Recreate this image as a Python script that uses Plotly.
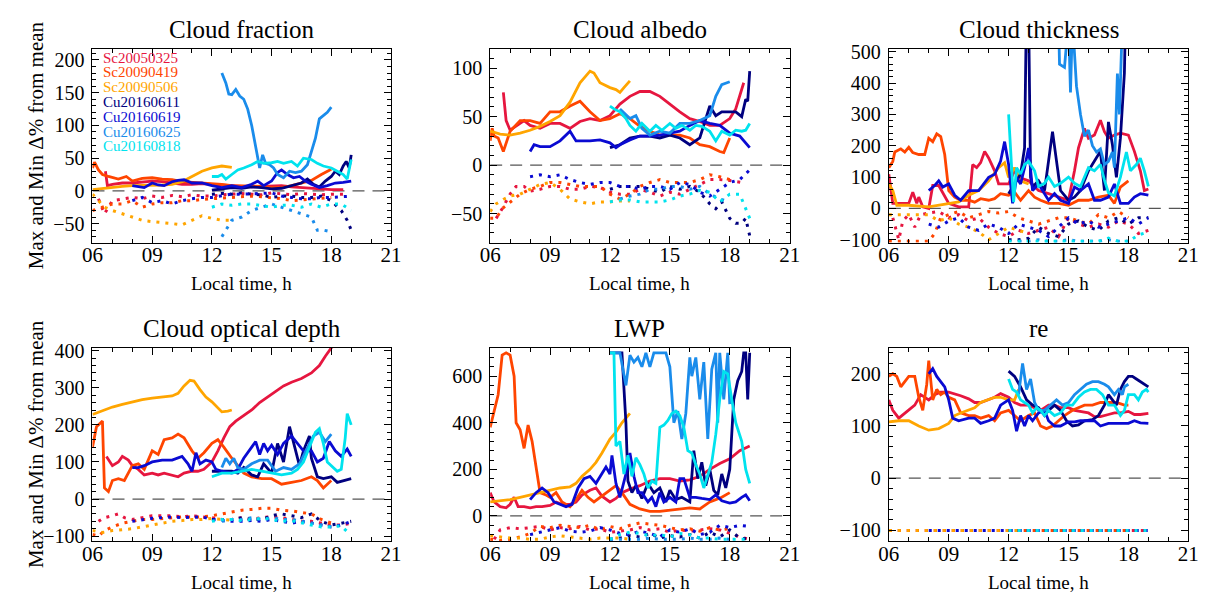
import plotly.graph_objects as go

W, H = 1215, 599

NAMES = ["Sc20050325", "Sc20090419", "Sc20090506", "Cu20160611",
         "Cu20160619", "Cu20160625", "Cu20160818"]
COLORS = ["#E6163F", "#FF4500", "#FFA500", "#00007F", "#0A0AD2", "#1A8CEB", "#00E3EE"]

TITLES = ["Cloud fraction", "Cloud albedo", "Cloud thickness",
          "Cloud optical depth", "LWP", "re"]
X_TICKVALS = [6, 9, 12, 15, 18, 21]
X_TICKTEXT = ["06", "09", "12", "15", "18", "21"]

# ---------------- Cloud fraction ----------------
cf_max_1 = [(6.65,30),(6.75,8),(7,10),(7.5,12),(8,12),(8.5,13),(9,15),(9.5,14),(10,12),(10.5,10),(11,10),(11.5,11),(12,10),(12.5,9),(13,7),(13.5,6),(14,6),(14.5,7),(15,8),(15.5,8),(16,6),(16.5,5),(17,5),(17.5,3),(18,2),(18.6,2)]
cf_min_1 = [(6.3,-12),(6.6,-35),(7,-15),(7.5,-12),(8,-10),(8.5,-12),(9,-8),(9.5,-10),(10,-7),(10.5,-9),(11,-6),(11.5,-8),(12,-8),(12.5,-6),(13,-5),(13.5,-4),(14,-5),(14.5,-6),(15,-3),(15.5,-5),(16,-6),(16.5,-4),(17,-5),(17.5,-6),(18,-5),(18.6,-5)]
cf_max_2 = [(6,35),(6.1,44),(6.3,32),(6.5,25),(6.8,22),(7,20),(7.3,18),(7.7,22),(8,15),(8.5,19),(9,20),(9.5,18),(10,17),(10.5,14),(11,13),(11.5,13),(12,12),(12.5,10),(13,8),(13.5,8),(14,8),(14.5,7),(15,5),(15.5,5),(16,8),(16.5,12),(17,16),(17.5,25),(18,33)]
cf_min_2 = [(6,-30),(6.5,-25),(7,-20),(7.5,-20),(8,-15),(8.5,-25),(9,-20),(9.5,-18),(10,-18),(10.5,-15),(11,-15),(11.5,-13),(12,-12),(12.5,-11),(13,-10),(13.5,-9),(14,-8),(14.5,-9),(15,-10),(15.5,-12),(16,-15),(16.5,-14),(17,-12),(17.5,-11),(18,-10)]
cf_max_3 = [(6,2),(6.5,4),(7,6),(7.5,7),(8,8),(8.5,8),(9,8),(9.5,9),(10,10),(10.5,14),(11,22),(11.5,30),(12,35),(12.5,38),(13,36)]
cf_min_3 = [(6,-5),(6.3,-15),(6.6,-25),(7,-30),(7.5,-35),(8,-40),(8.5,-45),(9,-47),(9.5,-48),(10,-50),(10.5,-52),(11,-45),(11.5,-38),(12,-42),(12.5,-45),(13,-45)]
cf_max_4 = [(12,1),(12.5,3),(13,5),(13.5,4),(14,6),(14.5,5),(15,3),(15.5,4),(16,8),(16.5,12),(16.8,18),(17.1,10),(17.4,6),(17.7,15),(18,22),(18.2,30),(18.4,25),(18.6,38),(18.75,45),(18.9,35),(19,55)]
cf_min_4 = [(12,-5),(12.5,-4),(13,-5),(13.5,-3),(14,-5),(14.5,-6),(15,-10),(15.5,-8),(16,-8),(16.5,-10),(17,-10),(17.5,-8),(18,-15),(18.5,-30),(18.8,-45),(19,-60)]
cf_max_5 = [(8,8),(8.3,6),(8.6,5),(9,12),(9.3,9),(9.6,8),(10,14),(10.3,16),(10.6,17),(11,12),(11.5,12),(12,8),(12.5,5),(13,8),(13.5,5),(14,10),(14.3,15),(14.6,8),(15,15),(15.3,28),(15.5,32),(15.8,25),(16.1,20),(16.4,22),(16.7,15),(17,10),(17.4,5),(17.8,8),(18.2,12),(18.6,13),(19,15)]
cf_min_5 = [(8,-15),(8.5,-10),(9,-18),(9.5,-15),(10,-20),(10.5,-15),(11,-12),(11.5,-10),(12,-10),(12.5,-8),(13,-5),(13.5,-5),(14,-5),(14.5,-4),(15,-3),(15.5,-8),(16,-10),(16.5,-12),(17,-12),(17.5,-10),(18,-10),(18.5,-9),(19,-8)]
cf_max_6 = [(12.5,180),(12.7,165),(12.85,148),(13,147),(13.2,155),(13.4,145),(13.6,140),(13.8,125),(14,100),(14.2,70),(14.4,35),(14.55,55),(14.7,42),(14.9,40),(15.1,35),(15.3,25),(15.6,20),(15.9,30),(16.2,28),(16.5,30),(16.8,40),(17,60),(17.2,80),(17.4,110),(17.6,115),(17.8,120),(18,128)]
cf_min_6 = [(12.5,-70),(12.7,-60),(13,-45),(13.5,-40),(14,-30),(14.5,-25),(15,-20),(15.5,-25),(16,-30),(16.5,-35),(17,-40),(17.3,-60),(17.6,-60),(17.9,-62)]
cf_max_7 = [(12,22),(12.3,22),(12.5,25),(12.7,18),(13,25),(13.3,32),(13.6,35),(14,40),(14.3,45),(14.6,42),(15,43),(15.3,45),(15.6,42),(16,45),(16.3,38),(16.6,50),(17,48),(17.3,42),(17.6,38),(18,35),(18.3,30),(18.6,25),(18.8,18),(19,48)]
cf_min_7 = [(12,-25),(12.5,-20),(13,-22),(13.5,-20),(14,-20),(14.5,-22),(15,-25),(15.5,-22),(16,-22),(16.5,-25),(17,-20),(17.5,-25),(18,-20),(18.5,-20),(19,-30)]

# ---------------- Cloud albedo ----------------
ca_max_1 = [(6.66,75),(6.8,46),(7,36),(7.3,40),(7.7,46),(8,41),(8.5,38),(9,43),(9.5,43),(10,38),(10.5,45),(11,48),(11.5,46),(12,51),(12.5,63),(13,71),(13.5,76),(14,76),(14.5,71),(15,63),(15.5,55),(16,48),(16.5,45),(17,41),(17.5,41),(18,48),(18.3,58),(18.7,85)]
ca_min_1 = [(6.3,-55),(6.6,-45),(7,-30),(7.3,-22),(7.7,-22),(8,-27),(8.5,-25),(9,-22),(9.5,-22),(10,-25),(10.5,-25),(11,-22),(11.5,-23),(12,-28),(12.5,-30),(13,-30),(13.5,-25),(14,-28),(14.5,-32),(15,-28),(15.5,-30),(16,-25),(16.5,-20),(17,-15),(17.5,-15),(18,-16),(18.6,-18)]
ca_max_2 = [(6,25),(6.1,38),(6.2,30),(6.4,28),(6.66,14),(7,35),(7.5,46),(8,46),(8.5,43),(9,55),(9.5,55),(10,61),(10.5,66),(11,55),(11.5,46),(12,48),(12.5,53),(13,48),(13.5,40),(14,35),(14.5,31),(15,31),(15.5,31),(16,28),(16.5,21),(17,19),(17.5,14),(17.7,13),(18,28)]
ca_min_2 = [(6,-55),(6.3,-55),(6.6,-45),(7,-38),(7.5,-30),(8,-25),(8.5,-22),(9,-18),(9.5,-18),(10,-20),(10.5,-22),(11,-22),(11.5,-22),(12,-30),(12.5,-35),(13,-30),(13.5,-22),(14,-18),(14.5,-15),(15,-18),(15.5,-18),(16,-18),(16.5,-15),(17,-10),(17.5,-12),(18,-15)]
ca_max_3 = [(6,35),(6.5,32),(7,31),(7.5,33),(8,36),(8.5,40),(9,45),(9.5,51),(10,65),(10.5,85),(11,97),(11.2,95),(11.5,85),(12,80),(12.3,78),(12.5,75),(12.7,80),(13,87)]
ca_min_3 = [(6,-48),(6.3,-40),(6.7,-35),(7,-32),(7.5,-30),(8,-25),(8.5,-20),(9,-18),(9.5,-25),(10,-35),(10.5,-38),(11,-40),(11.5,-38),(12,-38),(12.5,-37),(13,-37)]
ca_max_4 = [(12,18),(12.5,21),(13,28),(13.5,30),(14,30),(14.5,28),(15,31),(15.5,28),(16,21),(16.5,28),(17,61),(17.3,51),(17.6,55),(18,55),(18.3,55),(18.6,50),(18.8,68),(18.9,66),(19,97)]
ca_min_4 = [(12,-25),(12.5,-22),(13,-22),(13.5,-22),(14,-25),(14.5,-28),(15,-22),(15.5,-25),(16,-22),(16.5,-28),(17,-40),(17.3,-45),(17.6,-38),(18,-55),(18.3,-60),(18.6,-60),(18.8,-55),(19,-73)]
ca_max_5 = [(8,14),(8.2,21),(8.5,19),(9,19),(9.5,25),(10,35),(10.3,25),(11,25),(11.5,26),(12,23),(12.3,18),(12.5,21),(13,26),(13.5,30),(14,30),(14.5,31),(15,33),(15.5,35),(16,41),(16.5,46),(17,43),(17.5,41),(18,33),(18.5,30),(19,18)]
ca_min_5 = [(8,-12),(8.5,-10),(9,-12),(9.5,-10),(10,-15),(10.5,-18),(11,-20),(11.5,-18),(12,-18),(12.5,-22),(13,-22),(13.5,-25),(14,-22),(14.5,-22),(15,-25),(15.5,-18),(16,-20),(16.5,-28),(17,-32),(17.5,-25),(18,-18),(18.5,-15),(19,-5)]
ca_max_6 = [(12.5,58),(13,48),(13.3,51),(13.6,38),(14,31),(14.5,35),(15,33),(15.5,43),(16,43),(16.5,46),(17,51),(17.3,71),(17.6,83),(18,86)]
ca_min_6 = [(12.5,-35),(13,-32),(13.5,-30),(14,-25),(14.5,-25),(15,-22),(15.5,-22),(16,-25),(16.5,-22),(17,-30),(17.5,-35),(18,-38)]
ca_max_7 = [(12,61),(12.2,58),(12.5,55),(12.8,48),(13,41),(13.3,35),(13.6,43),(14,35),(14.3,41),(14.6,36),(15,43),(15.3,38),(15.6,41),(16,36),(16.3,41),(16.6,40),(17,35),(17.3,25),(17.6,35),(18,31),(18.3,36),(18.6,35),(18.8,36),(19,43)]
ca_min_7 = [(12,-38),(12.5,-36),(13,-36),(13.5,-38),(14,-38),(14.5,-38),(15,-36),(15.5,-32),(16,-30),(16.5,-26),(17,-28),(17.5,-38),(18,-30),(18.5,-30),(18.8,-45),(19,-55)]

# ---------------- Cloud thickness ----------------
ct_max_1 = [(6,109),(6.2,16),(6.5,16),(7,16),(7.2,52),(7.4,16),(7.5,36),(7.7,5),(8,0),(8.2,73),(8.5,73),(9,16),(9.5,5),(10,5),(10.2,140),(10.4,130),(10.6,146),(10.8,182),(11,161),(11.3,120),(11.5,78),(12,78),(12.3,120),(12.5,99),(13,88),(13.5,57),(14,47),(14.5,36),(15,26),(15.3,120),(15.5,193),(15.8,255),(16,224),(16.3,234),(16.6,281),(16.8,245),(17,224),(17.3,234),(17.6,240),(18,234),(18.3,182),(18.6,120),(18.8,57),(19,62)]
ct_min_1 = [(6.2,-30),(6.5,-100),(6.7,-40),(7,-20),(7.3,-60),(7.6,-20),(8,-15),(8.5,-10),(9,-30),(9.5,-20),(10,-40),(10.5,-30),(11,-60),(11.5,-80),(12,-90),(12.5,-70),(13,-80),(13.5,-70),(14,-60),(14.5,-90),(15,-30),(15.5,-50),(16,-60),(16.5,-50),(17,-60),(17.5,-40),(18,-50),(18.5,-80),(19,-70)]
ct_max_2 = [(6,130),(6.2,150),(6.3,180),(6.6,190),(6.8,180),(7,195),(7.2,178),(7.5,172),(7.8,172),(8,224),(8.2,213),(8.4,238),(8.6,229),(8.8,172),(9,57),(9.3,36),(9.6,26),(10,26),(10.3,20),(10.6,31),(11,26),(11.3,31),(11.6,47),(12,42),(12.3,52),(12.6,26),(13,57),(13.3,36),(13.6,26),(14,16),(14.5,16),(15,10),(15.5,26),(16,26),(16.5,36),(17,42),(17.3,16),(17.6,68),(18,88)]
ct_min_2 = [(6,-105),(6.5,-105),(7,-105),(7.5,-105),(8,-105),(8.3,-80),(8.6,-30),(9,-20),(9.5,-10),(10,-30),(10.5,-20),(11,-10),(11.5,-15),(12,-10),(12.5,-30),(13,-40),(13.5,-50),(14,-40),(14.5,-30),(15,-30),(15.5,-40),(16,-50),(16.5,-20),(17,-30),(17.5,-10),(18,-30)]
ct_max_3 = [(6,78),(6.2,57),(6.4,10),(7,10),(8,5),(9,16),(9.5,21),(10,42),(10.5,57),(11,88),(11.5,130),(11.8,146),(12,99),(12.3,130),(12.6,88),(13,78)]
ct_min_3 = [(6,-20),(6.5,-20),(7,-20),(7.5,-20),(8,-20),(8.5,-40),(9,-30),(9.5,-50),(10,-60),(10.5,-75),(11,-100),(11.5,-80),(12,-60),(12.5,-70),(13,-80)]
ct_max_4 = [(12,47),(12.3,78),(12.6,109),(12.8,193),(12.95,900),(13.1,99),(13.2,68),(13.5,88),(13.8,57),(14,151),(14.2,245),(14.4,151),(14.6,57),(15,26),(15.3,36),(15.6,57),(16,120),(16.3,151),(16.6,182),(16.8,57),(17,276),(17.2,203),(17.4,99),(17.6,224),(17.8,432),(17.95,900),(18.5,900),(19,900)]
ct_min_4 = [(12,-100),(12.5,-100),(13,-95),(13.5,-60),(14,-80),(14.5,-90),(15,-50),(15.5,-40),(16,-60),(16.5,-70),(17,-40),(17.5,-30),(18,-50),(18.5,-30),(19,-30)]
ct_max_5 = [(8,57),(8.3,73),(8.5,88),(8.7,68),(9,78),(9.3,42),(9.6,26),(10,57),(10.5,57),(11,99),(11.3,109),(11.6,151),(11.8,213),(12,140),(12.2,16),(12.4,99),(12.6,78),(12.8,130),(13,193),(13.2,57),(13.5,78),(14,26),(14.3,47),(14.6,26),(15,16),(15.3,68),(15.6,57),(16,78),(16.3,26),(16.6,26),(17,36),(17.3,78),(17.6,16),(18,16),(18.3,36),(18.6,47),(19,42)]
ct_min_5 = [(8,-50),(8.5,-60),(9,-40),(9.5,-30),(10,-60),(10.5,-70),(11,-50),(11.5,-60),(12,-80),(12.5,-50),(13,-60),(13.5,-70),(14,-90),(14.5,-60),(15,-30),(15.5,-50),(16,-40),(16.5,-60),(17,-50),(17.5,-40),(18,-30),(18.5,-50),(19,-30)]
ct_max_6 = [(12.5,900),(14.4,900),(14.55,460),(14.8,450),(15,600),(15.1,370),(15.2,600),(15.4,390),(15.6,300),(15.8,230),(16,250),(16.2,200),(16.4,180),(16.6,190),(16.8,140),(17,150),(17.2,180),(17.3,130),(17.45,430),(17.55,300),(17.7,600),(18,900)]
ct_min_6 = [(12.5,-105),(13,-105),(13.5,-100),(14,-105),(14.5,-105),(15,-100),(15.5,-105),(16,-105),(16.5,-105),(17,-100),(17.5,-105),(18,-105)]
ct_max_7 = [(12,300),(12.25,20),(12.4,130),(12.6,110),(12.8,140),(13,150),(13.3,120),(13.5,70),(13.8,80),(14,100),(14.3,70),(14.6,80),(15,100),(15.3,80),(15.6,70),(16,130),(16.3,120),(16.6,140),(16.8,90),(17,50),(17.3,40),(17.6,100),(17.9,180),(18.1,120),(18.4,140),(18.6,160),(18.8,120),(19,70)]
ct_min_7 = [(12,-105),(12.5,-105),(13,-105),(13.5,-105),(14,-105),(14.5,-105),(15,-105),(15.5,-105),(16,-105),(16.5,-105),(17,-95),(17.5,-105),(18,-105),(18.5,-85),(19,-75)]

# ---------------- Cloud optical depth ----------------
cod_max_1 = [(6.7,115),(7,90),(7.3,100),(7.5,115),(7.8,105),(8,90),(8.3,80),(8.6,65),(9,70),(9.3,65),(9.6,70),(10,65),(10.3,60),(10.6,70),(11,75),(11.3,75),(11.6,80),(12,100),(12.3,130),(12.6,165),(12.9,195),(13.2,210),(13.6,225),(14,240),(14.4,260),(14.8,275),(15.2,290),(15.6,305),(16,315),(16.5,325),(17,340),(17.4,360),(17.7,385),(18,410),(18.3,430)]
cod_min_1 = [(6.3,-60),(6.6,-50),(7,-45),(7.3,-40),(7.6,-50),(8,-55),(8.5,-50),(9,-45),(9.5,-45),(10,-45),(10.5,-48),(11,-45),(11.5,-48),(12,-50),(12.5,-55),(13,-55),(13.5,-50),(14,-55),(14.5,-50),(15,-48),(15.5,-50),(16,-55),(16.5,-60),(17,-60),(17.5,-65),(18,-70),(18.5,-70),(19,-65)]
cod_max_2 = [(6,140),(6.2,195),(6.4,205),(6.5,210),(6.6,30),(6.8,20),(7,50),(7.3,55),(7.6,50),(8,90),(8.3,95),(8.6,80),(9,130),(9.3,120),(9.6,160),(10,165),(10.3,175),(10.6,165),(11,130),(11.3,110),(11.6,125),(12,150),(12.3,160),(12.6,140),(13,110),(13.3,90),(13.6,70),(14,60),(14.5,55),(15,55),(15.5,40),(16,45),(16.5,50),(17,60),(17.3,50),(17.6,30),(18,50)]
cod_min_2 = [(6,-95),(6.3,-100),(6.6,-85),(7,-75),(7.5,-65),(8,-60),(8.5,-55),(9,-55),(9.5,-52),(10,-50),(10.5,-48),(11,-48),(11.5,-48),(12,-45),(12.5,-40),(13,-35),(13.5,-30),(14,-28),(14.5,-25),(15,-25),(15.5,-30),(16,-32),(16.5,-35),(17,-40),(17.5,-55),(18,-65)]
cod_max_3 = [(6,228),(6.5,238),(7,248),(7.5,255),(8,262),(8.5,268),(9,272),(9.5,274),(10,278),(10.3,285),(10.6,305),(10.9,320),(11.1,318),(11.4,295),(11.7,275),(12,262),(12.3,245),(12.5,235),(12.8,237),(13,240)]
cod_min_3 = [(6,-85),(6.5,-90),(7,-85),(7.5,-83),(8,-80),(8.5,-75),(9,-70),(9.5,-65),(10,-60),(10.5,-58),(11,-55),(11.5,-55),(12,-52),(12.5,-55),(13,-57)]
cod_max_4 = [(12,75),(12.5,75),(13,75),(13.3,70),(13.6,85),(14,65),(14.3,60),(14.6,95),(15,70),(15.3,150),(15.6,100),(15.9,195),(16.1,150),(16.4,90),(16.6,130),(16.9,170),(17,110),(17.3,60),(17.6,55),(18,60),(18.3,45),(18.6,50),(19,55)]
cod_min_4 = [(12,-55),(12.5,-55),(13,-55),(13.5,-50),(14,-55),(14.5,-55),(15,-45),(15.5,-40),(16,-45),(16.5,-50),(17,-40),(17.5,-60),(18,-70),(18.5,-65),(19,-60)]
cod_max_5 = [(8,85),(8.3,85),(8.6,90),(9,100),(9.5,105),(10,105),(10.5,115),(10.8,95),(11,75),(11.2,125),(11.4,95),(11.7,105),(12,100),(12.2,80),(12.5,75),(13,70),(13.3,80),(13.6,110),(14,140),(14.2,155),(14.4,120),(14.6,150),(14.8,130),(15,145),(15.3,120),(15.6,150),(16,170),(16.3,150),(16.6,130),(17,130),(17.3,100),(17.6,110),(17.9,155),(18.2,130),(18.5,115),(18.8,135),(19,115)]
cod_min_5 = [(8,-60),(8.5,-55),(9,-52),(9.5,-50),(10,-48),(10.5,-50),(11,-50),(11.5,-48),(12,-55),(12.5,-58),(13,-60),(13.5,-60),(14,-58),(14.5,-60),(15,-55),(15.5,-60),(16,-65),(16.5,-60),(17,-65),(17.5,-70),(18,-75),(18.5,-70),(19,-60)]
cod_max_6 = [(12.5,85),(12.7,110),(12.9,95),(13.1,110),(13.3,85),(13.6,80),(14,95),(14.4,105),(14.8,105),(15.2,75),(15.6,85),(16,80),(16.4,95),(16.8,140),(17.1,170),(17.4,180),(17.7,155),(18,175)]
cod_min_6 = [(12.5,-60),(13,-55),(13.5,-55),(14,-50),(14.5,-55),(15,-50),(15.5,-55),(16,-55),(16.5,-60),(17,-65),(17.5,-70),(18,-75)]
cod_max_7 = [(12,60),(12.5,70),(13,70),(13.5,75),(14,80),(14.5,75),(15,70),(15.5,65),(16,70),(16.3,80),(16.6,100),(16.9,140),(17.2,180),(17.4,190),(17.6,150),(17.8,100),(18,90),(18.3,75),(18.5,80),(18.7,165),(18.8,230),(19,200)]
cod_min_7 = [(12,-60),(12.5,-55),(13,-55),(13.5,-58),(14,-55),(14.5,-52),(15,-55),(15.5,-60),(16,-58),(16.5,-65),(17,-70),(17.5,-75),(18,-75),(18.5,-72),(18.8,-88),(19,-85)]

# ---------------- LWP ----------------
lwp_max_1 = [(6,100),(6.2,60),(6.5,40),(6.8,35),(7,50),(7.2,80),(7.4,40),(7.7,40),(8,35),(8.3,40),(8.6,40),(9,45),(9.3,60),(9.6,50),(10,50),(10.3,60),(10.6,90),(11,110),(11.3,120),(11.6,85),(12,60),(12.3,75),(12.6,100),(13,115),(13.5,130),(14,150),(14.5,160),(15,160),(15.5,150),(16,155),(16.5,170),(17,200),(17.5,225),(18,245),(18.5,280),(19,300)]
lwp_min_1 = [(6.2,-100),(6.5,-60),(7,-50),(7.5,-55),(8,-50),(8.5,-45),(9,-60),(9.5,-50),(10,-55),(10.5,-45),(11,-60),(11.5,-55),(12,-70),(12.5,-65),(13,-60),(13.5,-50),(14,-60),(14.5,-55),(15,-70),(15.5,-60),(16,-65),(16.5,-60),(17,-55),(17.5,-60),(18,-75),(18.5,-90),(19,-100)]
lwp_max_2 = [(6,380),(6.2,450),(6.4,520),(6.6,690),(6.8,700),(7,690),(7.2,600),(7.3,400),(7.5,370),(7.7,290),(7.9,390),(8.1,320),(8.3,200),(8.5,100),(8.8,90),(9,80),(9.3,100),(9.6,60),(10,40),(10.3,70),(10.6,110),(10.9,80),(11.2,60),(11.5,80),(12,110),(12.3,130),(12.6,100),(13,50),(13.5,30),(14,20),(14.5,20),(15,25),(15.5,30),(16,35),(16.5,30),(17,60),(17.3,70),(17.6,80),(18,100)]
lwp_min_2 = [(6,-100),(6.5,-105),(7,-100),(7.5,-90),(8,-75),(8.5,-45),(9,-50),(9.5,-40),(10,-45),(10.5,-50),(11,-40),(11.5,-60),(12,-45),(12.5,-55),(13,-40),(13.5,-30),(14,-35),(14.5,-40),(15,-50),(15.5,-60),(16,-55),(16.5,-65),(17,-50),(17.5,-60),(18,-55)]
lwp_max_3 = [(6,60),(6.5,65),(7,70),(7.5,80),(8,90),(8.5,100),(9,110),(9.5,120),(10,125),(10.3,140),(10.6,170),(11,200),(11.3,230),(11.6,270),(12,330),(12.3,360),(12.6,400),(13,440)]
lwp_min_3 = [(6,-85),(6.5,-90),(7,-95),(7.5,-95),(8,-100),(8.5,-100),(9,-90),(9.5,-85),(10,-90),(10.5,-95),(11,-100),(11.5,-95),(12,-95),(12.5,-95),(13,-100)]
lwp_max_4 = [(12,700),(12.3,700),(12.6,700),(12.8,400),(12.9,150),(13.1,100),(13.3,130),(13.6,75),(13.9,140),(14.2,100),(14.5,120),(14.8,60),(15,110),(15.3,70),(15.6,80),(16,60),(16.2,280),(16.4,160),(16.6,230),(16.8,130),(17,200),(17.2,110),(17.4,90),(17.6,180),(17.8,120),(18,200),(18.2,500),(18.4,580),(18.6,620),(18.7,700),(18.8,700),(18.9,500),(19,700)]
lwp_min_4 = [(12,-100),(12.5,-95),(13,-85),(13.5,-90),(14,-75),(14.5,-95),(15,-85),(15.5,-90),(16,-80),(16.5,-95),(17,-70),(17.5,-90),(18,-60),(18.5,-95),(19,-100)]
lwp_max_5 = [(8,70),(8.3,100),(8.6,120),(8.9,100),(9.2,60),(9.5,50),(9.8,40),(10.1,50),(10.4,120),(10.7,160),(11,170),(11.3,140),(11.6,180),(11.8,210),(12,180),(12.1,260),(12.3,140),(12.5,80),(12.8,180),(13,270),(13.2,170),(13.4,100),(13.6,100),(13.9,60),(14.1,80),(14.3,40),(14.5,100),(14.7,60),(15,80),(15.3,60),(15.5,160),(15.7,160),(16,80),(16.3,80),(16.6,75),(17,70),(17.3,90),(17.6,65),(18,55),(18.3,60),(18.6,80),(18.8,90),(19,65)]
lwp_min_5 = [(8,-80),(8.5,-70),(9,-60),(9.5,-50),(10,-65),(10.5,-70),(11,-65),(11.5,-50),(12,-60),(12.5,-75),(13,-80),(13.5,-65),(14,-75),(14.5,-90),(15,-60),(15.5,-70),(16,-55),(16.5,-80),(17,-70),(17.5,-40),(18,-50),(18.5,-40),(19,-45)]
lwp_max_6 = [(12,700),(12.5,700),(12.8,560),(13,690),(13.2,660),(13.4,680),(13.6,640),(13.8,700),(14,640),(14.2,700),(14.5,700),(14.8,700),(15,640),(15.2,400),(15.4,450),(15.6,330),(15.8,440),(16,680),(16.1,600),(16.3,680),(16.5,500),(16.7,660),(16.9,330),(17.1,630),(17.3,700),(17.4,400),(17.5,700),(17.7,500),(17.9,700),(18,480)]
lwp_min_6 = [(12,-100),(12.5,-100),(13,-100),(13.5,-100),(14,-95),(14.5,-100),(15,-100),(15.5,-100),(16,-95),(16.5,-100),(17,-100),(17.5,-95),(18,-100)]
lwp_max_7 = [(12,700),(12.2,700),(12.3,300),(12.5,320),(12.7,180),(12.9,260),(13.1,170),(13.3,250),(13.5,220),(13.7,180),(13.9,120),(14.1,150),(14.3,140),(14.5,380),(14.7,390),(14.9,410),(15.1,440),(15.3,450),(15.5,430),(15.7,380),(15.9,280),(16.1,270),(16.3,220),(16.5,180),(16.7,120),(16.9,180),(17.1,230),(17.3,350),(17.5,500),(17.7,620),(17.9,610),(18.1,500),(18.3,400),(18.6,320),(18.8,200),(19,140)]
lwp_min_7 = [(12,-100),(12.5,-80),(13,-70),(13.5,-75),(14,-85),(14.5,-80),(15,-90),(15.5,-75),(16,-80),(16.5,-95),(17,-95),(17.5,-100),(18,-100),(18.5,-100),(19,-100)]

# ---------------- re ----------------
re_max_1 = [(6,150),(6.2,130),(6.5,115),(6.8,125),(7,130),(7.3,140),(7.6,160),(8,150),(8.3,160),(8.6,165),(9,165),(9.3,162),(9.6,158),(10,152),(10.3,145),(10.6,145),(11,150),(11.3,155),(11.6,162),(12,155),(12.3,145),(12.6,140),(13,140),(13.3,135),(13.6,130),(14,140),(14.3,140),(14.6,135),(15,135),(15.3,130),(15.6,128),(16,125),(16.3,118),(16.6,118),(17,122),(17.3,125),(17.6,125),(18,128),(18.3,122),(18.6,122),(19,124)]
re_min_1 = [(6,-100),(7,-100),(8,-100),(9,-100),(10,-100),(11,-100),(12,-100),(13,-100),(14,-100),(15,-100),(16,-100),(17,-100),(18,-100),(19,-100)]
re_max_2 = [(6,195),(6.2,200),(6.4,195),(6.6,175),(6.8,185),(7,195),(7.3,195),(7.5,155),(7.7,130),(7.9,180),(8,225),(8.2,150),(8.4,170),(8.6,160),(8.8,165),(9,155),(9.3,150),(9.6,125),(10,120),(10.3,120),(10.6,115),(11,120),(11.3,110),(11.6,125),(12,130),(12.3,120),(12.6,110),(13,120),(13.3,125),(13.6,100),(13.9,95),(14.2,100),(14.5,110),(14.8,120),(15.2,130),(15.5,135),(15.8,140),(16.2,140),(16.6,145),(17,145),(17.4,145),(17.8,140),(18,140)]
re_min_2 = [(6,-100),(7,-100),(8,-100),(9,-100),(10,-100),(11,-100),(12,-100),(13,-100),(14,-100),(15,-100),(16,-100),(17,-100),(18,-100)]
re_max_3 = [(6,108),(6.5,110),(7,110),(7.5,100),(8,92),(8.5,95),(9,105),(9.3,120),(9.6,125),(10,130),(10.3,135),(10.6,145),(11,150),(11.3,155),(11.6,155),(12,150),(12.3,150),(12.5,170)]
re_min_3 = [(6,-100),(7,-100),(8,-100),(9,-100),(10,-100),(11,-100),(12,-100),(12.5,-100)]
re_max_4 = [(12,205),(12.3,195),(12.6,175),(12.9,150),(13.2,140),(13.5,135),(13.8,120),(14,130),(14.3,140),(14.6,130),(14.9,110),(15.2,100),(15.5,102),(15.8,110),(16.2,112),(16.5,120),(16.8,140),(17,160),(17.2,150),(17.4,140),(17.6,170),(17.8,185),(18,195),(18.2,195),(18.4,190),(18.6,185),(18.8,180),(19,175)]
re_min_4 = [(12,-100),(13,-100),(14,-100),(15,-100),(16,-100),(17,-100),(18,-100),(19,-100)]
re_max_5 = [(8,200),(8.2,210),(8.4,195),(8.6,185),(8.8,175),(9,150),(9.2,115),(9.5,110),(10,115),(10.3,115),(10.6,105),(11,110),(11.3,115),(11.6,140),(12,150),(12.2,130),(12.4,90),(12.6,120),(12.8,100),(13,120),(13.2,110),(13.5,125),(13.8,130),(14,110),(14.3,100),(14.6,100),(15,108),(15.3,108),(15.6,110),(16,110),(16.3,110),(16.6,100),(17,105),(17.3,105),(17.6,105),(18,105),(18.3,110),(18.6,106),(19,105)]
re_min_5 = [(8,-100),(9,-100),(10,-100),(11,-100),(12,-100),(13,-100),(14,-100),(15,-100),(16,-100),(17,-100),(18,-100),(19,-100)]
re_max_6 = [(12.5,160),(12.7,220),(12.9,170),(13.1,190),(13.3,145),(13.5,130),(13.8,130),(14.1,140),(14.4,150),(14.7,140),(15,145),(15.3,160),(15.6,170),(15.9,180),(16.2,185),(16.5,185),(16.8,180),(17,175),(17.3,160),(17.5,170),(17.7,160),(17.8,175),(18,180)]
re_min_6 = [(12.5,-100),(13,-100),(14,-100),(15,-100),(16,-100),(17,-100),(18,-100)]
re_max_7 = [(12,190),(12.2,170),(12.4,165),(12.6,150),(12.8,145),(13,140),(13.2,125),(13.4,135),(13.6,130),(13.8,120),(14,130),(14.3,120),(14.6,125),(14.9,140),(15.2,140),(15.5,155),(15.8,165),(16.1,170),(16.4,170),(16.7,160),(17,140),(17.3,140),(17.6,120),(17.8,130),(18,160),(18.3,160),(18.5,150),(18.7,165),(18.9,170),(19,165)]
re_min_7 = [(12,-100),(13,-100),(14,-100),(15,-100),(16,-100),(17,-100),(18,-100),(19,-100)]

PANEL_MAX = [
    [cf_max_1, cf_max_2, cf_max_3, cf_max_4, cf_max_5, cf_max_6, cf_max_7],
    [ca_max_1, ca_max_2, ca_max_3, ca_max_4, ca_max_5, ca_max_6, ca_max_7],
    [ct_max_1, ct_max_2, ct_max_3, ct_max_4, ct_max_5, ct_max_6, ct_max_7],
    [cod_max_1, cod_max_2, cod_max_3, cod_max_4, cod_max_5, cod_max_6, cod_max_7],
    [lwp_max_1, lwp_max_2, lwp_max_3, lwp_max_4, lwp_max_5, lwp_max_6, lwp_max_7],
    [re_max_1, re_max_2, re_max_3, re_max_4, re_max_5, re_max_6, re_max_7],
]
PANEL_MIN = [
    [cf_min_1, cf_min_2, cf_min_3, cf_min_4, cf_min_5, cf_min_6, cf_min_7],
    [ca_min_1, ca_min_2, ca_min_3, ca_min_4, ca_min_5, ca_min_6, ca_min_7],
    [ct_min_1, ct_min_2, ct_min_3, ct_min_4, ct_min_5, ct_min_6, ct_min_7],
    [cod_min_1, cod_min_2, cod_min_3, cod_min_4, cod_min_5, cod_min_6, cod_min_7],
    [lwp_min_1, lwp_min_2, lwp_min_3, lwp_min_4, lwp_min_5, lwp_min_6, lwp_min_7],
    [re_min_1, re_min_2, re_min_3, re_min_4, re_min_5, re_min_6, re_min_7],
]
Y_RANGES = [[-79, 217], [-80, 120], [-109, 509], [-114, 408], [-109, 722], [-121, 250]]
Y_DTICK = [50, 50, 100, 100, 200, 100]
Y_MINOR = [10, 10, 20, 20, 40, 20]

COL_X = [(83, 387), (488, 793), (894, 1199)]
ROW_Y = [(42, 241), (349, 548)]

FONT = "Times New Roman, Liberation Serif, serif"

fig = go.Figure()
layout = dict(
    width=W, height=H, margin=dict(l=0, r=0, t=0, b=0),
    paper_bgcolor="white", plot_bgcolor="white", showlegend=False,
    font=dict(family=FONT, color="black"),
)
shapes, annotations = [], []

for p in range(6):
    col, row = p % 3, p // 3
    n = "" if p == 0 else str(p + 1)
    xa, ya = "x" + n, "y" + n
    x0, x1 = COL_X[col]
    yt, yb = ROW_Y[row]
    layout["xaxis" + n] = dict(
        domain=[x0 / W, x1 / W], anchor=ya, range=[6, 21],
        tickvals=X_TICKVALS, ticktext=X_TICKTEXT, ticks="inside", ticklen=7,
        tickwidth=1, tickcolor="black", ticklabelstandoff=-7,
        minor=dict(ticks="inside", dtick=1, ticklen=4, tickcolor="black", showgrid=False),
        showline=True, linecolor="black", linewidth=1, mirror="ticks",
        showgrid=False, zeroline=False,
        tickfont=dict(family=FONT, size=21, color="black"),
    )
    layout["yaxis" + n] = dict(
        domain=[1 - yb / H, 1 - yt / H], anchor=xa, range=Y_RANGES[p],
        dtick=Y_DTICK[p], tick0=0, ticks="inside", ticklen=7, tickwidth=1, tickcolor="black",
        ticklabelstandoff=3,
        minor=dict(ticks="inside", dtick=Y_MINOR[p], ticklen=4, tickcolor="black", showgrid=False),
        showline=True, linecolor="black", linewidth=1, mirror="ticks",
        showgrid=False, zeroline=False,
        tickfont=dict(family=FONT, size=20, color="black"),
    )
    for s in range(7):
        hi = PANEL_MAX[p][s]
        lo = PANEL_MIN[p][s]
        fig.add_trace(go.Scatter(
            x=[a for a, b in hi], y=[b for a, b in hi], mode="lines",
            line=dict(color=COLORS[s], width=2.8), xaxis=xa, yaxis=ya,
            name=NAMES[s], hoverinfo="skip"))
        fig.add_trace(go.Scatter(
            x=[a for a, b in lo], y=[b for a, b in lo], mode="lines",
            line=dict(color=COLORS[s], width=3, dash="3px,6px"), xaxis=xa, yaxis=ya,
            name=NAMES[s] + " min", hoverinfo="skip"))
    shapes.append(dict(type="line", xref=xa, yref=ya, x0=6, x1=21, y0=0, y1=0,
                       line=dict(color="#555555", width=1.3, dash="12px,8px"), layer="below"))
    annotations.append(dict(text=TITLES[p], xref="paper", yref="paper",
                            x=(x0 + x1) / 2 / W, y=1 - (yt - 20) / H,
                            xanchor="center", yanchor="middle", showarrow=False,
                            font=dict(family=FONT, size=25, color="black")))
    annotations.append(dict(text="Local time, h", xref="paper", yref="paper",
                            x=(x0 + x1) / 2 / W, y=1 - (yb + 42) / H,
                            xanchor="center", yanchor="middle", showarrow=False,
                            font=dict(family=FONT, size=19, color="black")))
    if col == 0:
        annotations.append(dict(text="Max and Min Δ% from mean", xref="paper", yref="paper",
                                x=25 / W, y=1 - (yt + yb) / 2 / H, textangle=-90,
                                xanchor="center", yanchor="middle", showarrow=False,
                                font=dict(family=FONT, size=21, color="black")))

# legend texts inside the first panel
for s in range(7):
    annotations.append(dict(text=NAMES[s], xref="paper", yref="paper",
                            x=92 / W, y=1 - (51 + 15.2 * s) / H,
                            xanchor="left", yanchor="middle", showarrow=False,
                            font=dict(family=FONT, size=15, color=COLORS[s])))

layout["shapes"] = shapes
layout["annotations"] = annotations
fig.update_layout(**layout)
fig.write_html("out.html", config={"displayModeBar": False},
               post_script="document.body.style.margin='0';document.body.style.overflow='hidden';")
